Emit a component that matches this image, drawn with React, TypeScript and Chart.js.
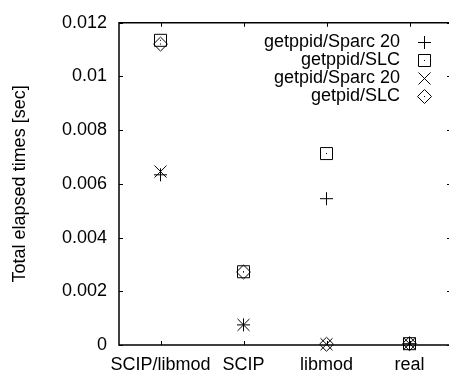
import React, { useEffect, useRef } from "react";
import { Chart, registerables } from "chart.js";
Chart.register(...registerables);

const categories = ["SCIP/libmod", "SCIP", "libmod", "real"];
const seriesLabels = ["getppid/Sparc 20", "getppid/SLC", "getpid/Sparc 20", "getpid/SLC"];
const getppidSparc20 = [0.00634, 0.00075, 0.00545, 0.00005];
const getppidSLC = [0.01135, 0.00273, 0.00713, 0.00005];
const getpidSparc20 = [0.00646, 0.00075, 0.00003, 0.00005];
const getpidSLC = [0.01121, 0.00272, 0.00003, 0.00005];
const yTickLabels = ["0", "0.002", "0.004", "0.006", "0.008", "0.01", "0.012"];
const yTitle = "Total elapsed times [sec]";

const FONT = "'Liberation Sans', Arial, Helvetica, sans-serif";

function makeSymbol(kind: string): HTMLCanvasElement {
  const c = document.createElement("canvas");
  c.width = 17;
  c.height = 17;
  const g = c.getContext("2d")!;
  g.strokeStyle = "#000";
  g.fillStyle = "#000";
  g.lineWidth = 1;
  g.beginPath();
  if (kind === "plus") {
    g.moveTo(2, 8.5); g.lineTo(15, 8.5);
    g.moveTo(8.5, 2); g.lineTo(8.5, 15);
  } else if (kind === "square") {
    g.rect(2.5, 2.5, 12, 12);
  } else if (kind === "cross") {
    g.moveTo(2.5, 2.5); g.lineTo(14.5, 14.5);
    g.moveTo(14.5, 2.5); g.lineTo(2.5, 14.5);
  } else {
    g.moveTo(8.5, 1.5); g.lineTo(15.5, 8.5); g.lineTo(8.5, 15.5); g.lineTo(1.5, 8.5); g.closePath();
  }
  g.stroke();
  if (kind === "square" || kind === "diamond") g.fillRect(8, 8, 1, 1);
  return c;
}

export default function App() {
  const ref = useRef<HTMLCanvasElement>(null);
  useEffect(() => {
    document.body.style.margin = "0";
    document.body.style.overflow = "hidden";
    const symbols = [makeSymbol("plus"), makeSymbol("square"), makeSymbol("cross"), makeSymbol("diamond")];
    const series = [getppidSparc20, getppidSLC, getpidSparc20, getpidSLC];

    const framePlugin = {
      id: "frame",
      afterDraw(chart: any) {
        const { ctx, chartArea, scales } = chart;
        const { left, right, top, bottom } = chartArea;
        ctx.save();
        ctx.strokeStyle = "#000";
        ctx.lineWidth = 1.5;
        ctx.beginPath();
        ctx.rect(left, top, right - left, bottom - top);
        ctx.stroke();
        ctx.lineWidth = 1;
        ctx.beginPath();
        const y = scales.y;
        y.ticks.forEach((_t: any, i: number) => {
          const py = Math.round(y.getPixelForTick(i)) + 0.5;
          ctx.moveTo(left, py); ctx.lineTo(left + 4, py);
          ctx.moveTo(right, py); ctx.lineTo(right - 4, py);
        });
        const x = scales.x;
        x.ticks.forEach((_t: any, i: number) => {
          const px = Math.round(x.getPixelForTick(i)) + 0.5;
          ctx.moveTo(px, bottom); ctx.lineTo(px, bottom - 4);
          ctx.moveTo(px, top); ctx.lineTo(px, top + 4);
        });
        ctx.stroke();
        // legend
        ctx.font = `18px ${FONT}`;
        ctx.fillStyle = "#000";
        ctx.textAlign = "right";
        ctx.textBaseline = "middle";
        chart.data.datasets.forEach((ds: any, i: number) => {
          const ly = 42 + i * 18;
          ctx.fillText(ds.label, 400, ly);
          const s = symbols[i];
          ctx.drawImage(s, 416, ly - 8);
        });
        ctx.restore();
      },
    };

    const chart = new Chart(ref.current!, {
      type: "line",
      data: {
        labels: categories,
        datasets: series.map((d, i) => ({
          label: seriesLabels[i],
          data: d,
          showLine: false,
          pointStyle: symbols[i] as any,
          pointRadius: 7,
          borderColor: "#000",
          backgroundColor: "#000",
          clip: false as any,
        })),
      },
      options: {
        responsive: false,
        animation: false,
        events: [],
        layout: { padding: { top: 15, right: 9, left: 0, bottom: 0 } },
        plugins: { legend: { display: false }, tooltip: { enabled: false } },
        scales: {
          x: {
            type: "category",
            offset: true,
            grid: { display: false, drawTicks: false },
            border: { display: false },
            ticks: { color: "#000", font: { family: FONT, size: 18 }, padding: 9, maxRotation: 0, autoSkip: false },
            afterFit: (s: any) => { s.height = 31; },
          },
          y: {
            min: 0,
            max: 0.012,
            grid: { display: false, drawTicks: false },
            border: { display: false },
            ticks: {
              stepSize: 0.002,
              color: "#000",
              font: { family: FONT, size: 18 },
              padding: 12,
              callback: (_v: any, i: number) => yTickLabels[i],
            },
            title: { display: true, text: yTitle, color: "#000", font: { family: FONT, size: 18 }, padding: { top: 9, bottom: 0 } },
            afterFit: (s: any) => { s.width = 119; },
          },
        },
      },
      plugins: [framePlugin],
    });
    return () => chart.destroy();
  }, []);
  return (
    <div style={{ width: 449, height: 376, overflow: "hidden", background: "#fff" }}>
      <canvas ref={ref} width={460} height={376} style={{ display: "block" }} />
    </div>
  );
}
